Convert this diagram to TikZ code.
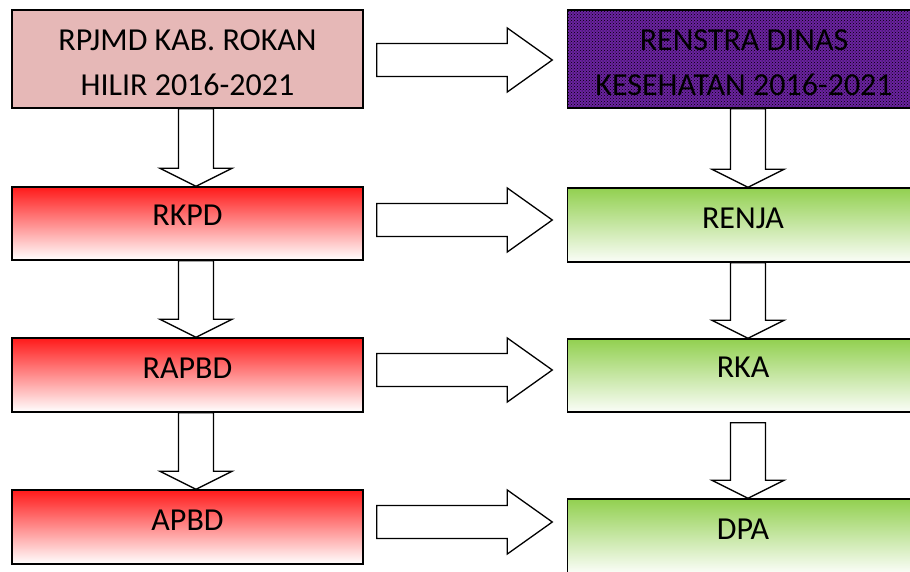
\documentclass[tikz,border=0pt]{standalone}
\usepackage{fontspec}
\setmainfont{Carlito}
\usetikzlibrary{calc,patterns}
\definecolor{pinkfill}{HTML}{E6B8B7}
\definecolor{purp}{HTML}{6A22A0}
\definecolor{redtop}{HTML}{FF1A1A}
\definecolor{greentop}{HTML}{92D050}
\tikzset{
  box/.style={draw=black, line width=1.4pt, rectangle, minimum width=351pt, inner sep=0pt},
  pinkbox/.style={box, minimum height=98pt, fill=pinkfill},
  purpbox/.style={box, minimum height=98pt, preaction={fill=purp}, pattern=crosshatch dots, pattern color=black},
  redbox/.style={box, minimum height=73pt, top color=redtop, bottom color=white},
  greenbox/.style={box, minimum height=74pt, top color=greentop, bottom color=white!96!greentop},
  lbl/.style={font=\fontsize{32}{45}\selectfont, align=center, inner sep=0pt, text=black},
  blk/.style={draw=black, line width=1.3pt, fill=white, line join=miter},
}
% vertical block arrow: from node, to node, x centre (pt), extra gap at top (pt)
\newcommand\vblk[4]{%
  \draw[blk] let \p1=(#1.south), \p2=(#2.north) in
    ({#3pt-17.5pt},{\y1-#4pt}) -- ({#3pt-17.5pt},{\y2+18pt}) -- ({#3pt-36pt},{\y2+18pt})
    -- ({#3pt},{\y2}) -- ({#3pt+36pt},{\y2+18pt}) -- ({#3pt+17.5pt},{\y2+18pt})
    -- ({#3pt+17.5pt},{\y1-#4pt}) -- cycle;}
% horizontal block arrow: from node, to node, y centre (image px)
\newcommand\hblk[3]{%
  \draw[blk] let \p1=(#1.east), \p2=(#2.west) in
    ({\x1+13pt},{-#3pt+16.5pt}) -- ({\x2-59.5pt},{-#3pt+16.5pt}) -- ({\x2-59.5pt},{-#3pt+32pt})
    -- ({\x2-14.5pt},{-#3pt}) -- ({\x2-59.5pt},{-#3pt-32pt}) -- ({\x2-59.5pt},{-#3pt-16.5pt})
    -- ({\x1+13pt},{-#3pt-16.5pt}) -- cycle;}
\begin{document}
\begin{tikzpicture}[x=1pt,y=-1pt]
\useasboundingbox (0,0) rectangle (910,571);
\clip (0,0) rectangle (910,571);
\fill[white] (0,0) rectangle (910,571);
% left column
\node[pinkbox] (L1) at (187.5,59) {};
\node[redbox] (L2) at (187.5,223.5) {};
\node[redbox, minimum height=74pt] (L3) at (187.5,375) {};
\node[redbox, minimum height=74pt] (L4) at (187.5,527) {};
% right column
\node[purpbox] (R1) at (743,59) {};
\node[greenbox] (R2) at (743,225) {};
\node[greenbox, minimum height=73pt] (R3) at (743,375.5) {};
\node[greenbox] (R4) at (743,536) {};
% labels
\node[lbl] (tL1) at (187.5,62.5) {RPJMD KAB. ROKAN\\HILIR 2016-2021};
\node[lbl] (tL2) at (187.5,215.5) {RKPD};
\node[lbl] (tL3) at (187.5,368) {RAPBD};
\node[lbl] (tL4) at (187.5,520) {APBD};
\node[lbl] (tR1) at (744,62.5) {RENSTRA DINAS\\KESEHATAN 2016-2021};
\node[lbl] (tR2) at (743,218) {RENJA};
\node[lbl] (tR3) at (743,367.5) {RKA};
\node[lbl] (tR4) at (743,529.5) {DPA};
% vertical arrows
\vblk{L1}{L2}{196}{0}
\vblk{L2}{L3}{196}{0}
\vblk{L3}{L4}{196}{0}
\vblk{R1}{R2}{748}{0}
\vblk{R2}{R3}{748}{0}
\vblk{R3}{R4}{748}{10}
% horizontal arrows
\hblk{L1}{R1}{60}
\hblk{L2}{R2}{220}
\hblk{L3}{R3}{370}
\hblk{L4}{R4}{522}
\end{tikzpicture}
\end{document}
